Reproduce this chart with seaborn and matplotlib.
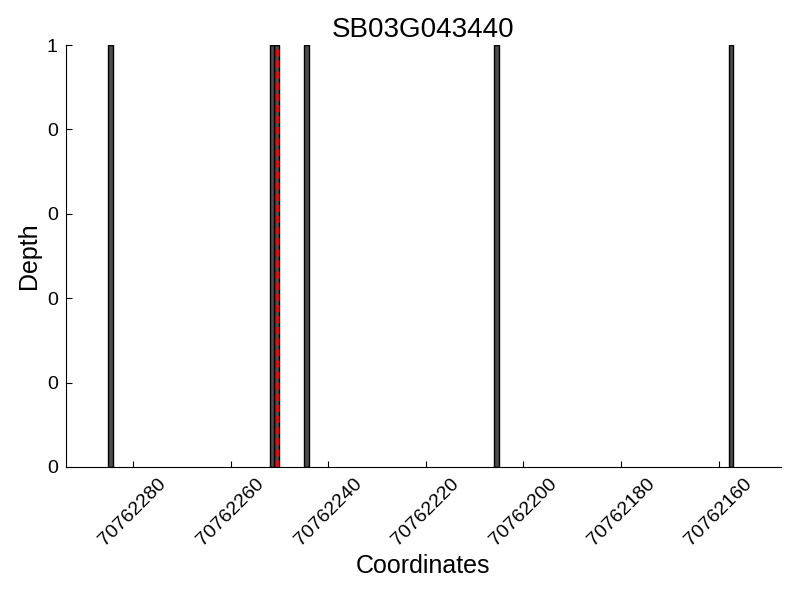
#!/usr/bin/env python3
"""Depth per coordinate for one gene
"""

import numpy as np
import pandas as pd
import matplotlib
matplotlib.use("Agg")
import matplotlib.pyplot as plt
import matplotlib.ticker as mticker
import seaborn as sns

gene_name = "SB03G043440"
coordinates = [70762284, 70762251, 70762250, 70762244, 70762205, 70762157]
depths = [1, 1, 1, 1, 1, 1]
marker_position = 70762250.5
x_ticks = [70762280, 70762260, 70762240, 70762220, 70762200, 70762180, 70762160]
x_limits = (70762293.7, 70762147.3)


def main():
    sns.set_style("ticks")
    plt.rcParams['font.family'] = ['Liberation Sans', 'DejaVu Sans']
    plt.rcParams['text.color'] = 'black'
    plt.rcParams['axes.labelcolor'] = 'black'
    plt.rcParams['xtick.color'] = 'black'
    plt.rcParams['ytick.color'] = 'black'

    # bars span [coord, coord + 1], like bar(align='edge')
    df = pd.DataFrame({'Coordinates': np.array(coordinates) + 0.5, 'Depth': depths})

    fig = plt.figure(figsize=(8, 6), dpi=100)
    ax = fig.add_axes([0.0825, 0.2217, 0.8935, 0.7033])
    sns.barplot(data=df, x='Coordinates', y='Depth', native_scale=True, width=1,
                color='#4d4d4d', saturation=1, edgecolor='black', linewidth=1,
                errorbar=None, ax=ax)
    ax.axvline(marker_position, color='red', linestyle=(0, (2.5, 1.5)), linewidth=2)

    ax.set_xlim(*x_limits)
    ax.set_ylim(0, 1)
    ax.set_xticks(x_ticks)
    ax.set_xticklabels([str(t) for t in x_ticks], rotation=45, fontsize=14)
    ax.set_yticks(np.linspace(0, 1, 6))
    ax.yaxis.set_major_formatter(mticker.FormatStrFormatter('%d'))
    ax.tick_params(axis='both', direction='in', length=4, labelsize=14, pad=6)
    sns.despine(ax=ax)
    ax.spines['left'].set_color('black')
    ax.spines['bottom'].set_color('black')

    ax.set_title(gene_name, fontsize=20)
    ax.set_xlabel('Coordinates', fontsize=18)
    ax.set_ylabel('Depth', fontsize=18)
    fig.savefig('out.png', dpi=100)


if __name__ == '__main__':
    main()
